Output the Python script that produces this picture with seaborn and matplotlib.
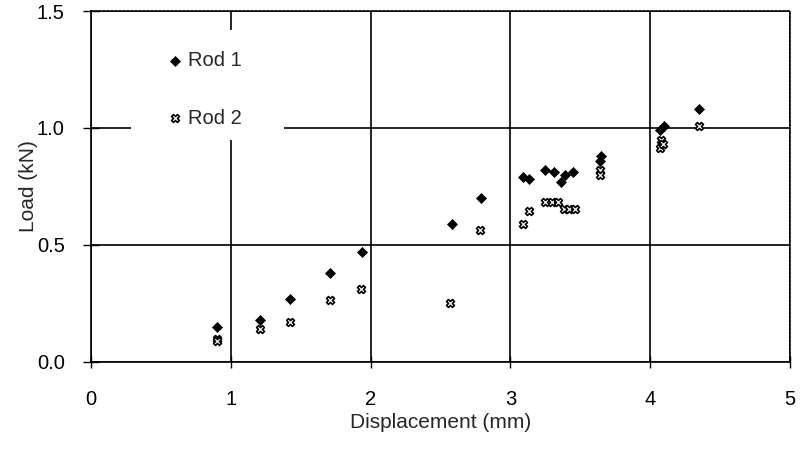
import matplotlib
matplotlib.use("Agg")
import matplotlib.pyplot as plt
import seaborn as sns
import pandas as pd
from matplotlib.patches import Rectangle

# Load-displacement measurements for the two rods
rod1_disp = [0.90, 1.21, 1.42, 1.71, 1.94, 2.58, 2.79, 3.09, 3.13, 3.25, 3.31,
             3.36, 3.39, 3.45, 3.64, 3.65, 4.07, 4.10, 4.35]
rod1_load = [0.15, 0.18, 0.27, 0.38, 0.47, 0.59, 0.70, 0.79, 0.78, 0.82, 0.81,
             0.77, 0.80, 0.81, 0.86, 0.88, 0.99, 1.01, 1.08]

rod2_disp = [0.90, 0.90, 1.21, 1.42, 1.71, 1.93, 2.57, 2.78, 3.09, 3.13, 3.25,
             3.30, 3.34, 3.38, 3.42, 3.46, 3.64, 3.64, 4.08, 4.07, 4.09, 4.35]
rod2_load = [0.10, 0.09, 0.14, 0.17, 0.265, 0.31, 0.25, 0.565, 0.59, 0.645, 0.685,
             0.685, 0.685, 0.655, 0.655, 0.655, 0.82, 0.80, 0.95, 0.915, 0.93, 1.01]

series_names = ["Rod 1", "Rod 2"]
x_ticks = [0, 1, 2, 3, 4, 5]
y_ticks = [0.0, 0.5, 1.0, 1.5]
y_tick_labels = ["0.0", "0.5", "1.0", "1.5"]

df1 = pd.DataFrame({"disp": rod1_disp, "load": rod1_load})
df2 = pd.DataFrame({"disp": rod2_disp, "load": rod2_load})

sns.set_style("white")
plt.rcParams["font.family"] = ["Liberation Sans", "DejaVu Sans"]

fig = plt.figure(figsize=(8.0, 4.49), dpi=100)
ax = fig.add_axes([0.114, 0.194, 0.8735, 0.7815])

sns.scatterplot(data=df1, x="disp", y="load", ax=ax, marker="D", s=26,
                color="black", edgecolor="black", linewidth=0.5,
                label=series_names[0], zorder=3)
sns.scatterplot(data=df2, x="disp", y="load", ax=ax, marker="X", s=32,
                facecolor="white", edgecolor="black", linewidth=1.2,
                label=series_names[1], zorder=3)

ax.set_xlim(0, 5)
ax.set_ylim(0, 1.5)
ax.set_xticks(x_ticks)
ax.set_yticks(y_ticks)
ax.set_yticklabels(y_tick_labels)

# solid black grid at the inner ticks
ax.set_axisbelow(True)
ax.grid(True, color="black", linewidth=1.2, linestyle="-")

for side in ["left", "bottom"]:
    ax.spines[side].set_color("black")
    ax.spines[side].set_linewidth(1.2)
for side in ["top", "right"]:
    ax.spines[side].set_color("black")
    ax.spines[side].set_linewidth(1.2)
    ax.spines[side].set_linestyle((0, (1.2, 1.2)))

ax.tick_params(axis="x", direction="inout", length=8, width=1.0, pad=16,
               labelsize=14.5, colors="black", bottom=True)
ax.tick_params(axis="y", direction="inout", length=12, width=1.0, pad=13,
               labelsize=14.5, colors="black", left=True)

ax.set_xlabel("Displacement (mm)", fontsize=15, labelpad=3)
ax.set_ylabel("Load (kN)", fontsize=15, labelpad=-1)

# white panel behind the legend
ax.add_patch(Rectangle((0.057, 0.632), 0.219, 0.314, transform=ax.transAxes,
                       facecolor="white", edgecolor="none", zorder=1.5))

leg = ax.legend(loc="upper left", bbox_to_anchor=(0.106, 0.885),
                frameon=False, fontsize=14.5, handlelength=1.0,
                handletextpad=0.15, labelspacing=1.9, borderpad=0,
                borderaxespad=0)
leg.set_zorder(5)

fig.savefig("out.png", dpi=100)
